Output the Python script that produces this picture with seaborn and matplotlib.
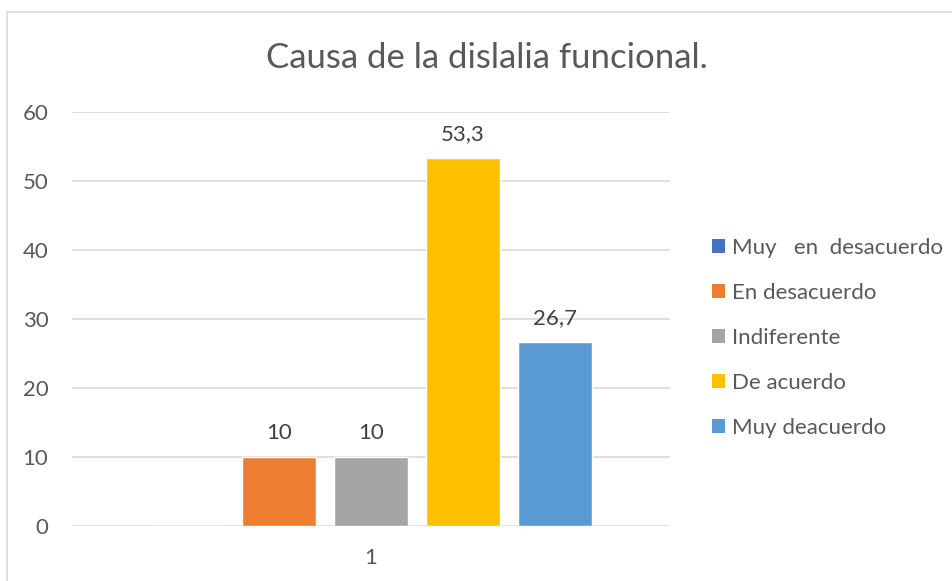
import matplotlib
matplotlib.use("Agg")
import matplotlib.pyplot as plt
import seaborn as sns
import pandas as pd
from matplotlib.patches import Patch, Rectangle

categories = ["1"]
series = ["Muy   en  desacuerdo", "En desacuerdo", "Indiferente", "De acuerdo", "Muy deacuerdo"]
values = [0, 10, 10, 53.3, 26.7]
colors = ["#4472C4", "#ED7D31", "#A5A5A5", "#FFC000", "#5B9BD5"]
yticks = [0, 10, 20, 30, 40, 50, 60]

df = pd.DataFrame({"cat": categories * len(series), "serie": series, "valor": values})

sns.set_theme(style="white")
plt.rcParams["font.family"] = ["Lato", "DejaVu Sans"]
txt = "#595959"

fig = plt.figure(figsize=(9.53, 5.81), dpi=100)
ax = fig.add_axes([72/953, 1-526/581, 598/953, 414/581])

sns.barplot(data=df, x="cat", y="valor", hue="serie", hue_order=series,
            palette=colors, width=0.77, gap=0.2, saturation=1, legend=False,
            ax=ax, errorbar=None)

ax.set_xlim(-0.5, 0.5)
ax.set_ylim(0, 60)
ax.set_yticks(yticks)
ax.yaxis.grid(True, color="#D9D9D9", linewidth=1.2)
ax.set_axisbelow(True)
for s in ax.spines.values():
    s.set_visible(False)
ax.tick_params(axis="both", length=0, labelsize=16, colors=txt)
ax.tick_params(axis="y", pad=17)
ax.tick_params(axis="x", pad=16)
ax.set_xlabel("")
ax.set_ylabel("")

for cont in ax.containers:
    labs = []
    for bar in cont:
        h = bar.get_height()
        labs.append("" if h == 0 else (f"{h:g}".replace(".", ",")))
    ax.bar_label(cont, labels=labs, padding=10, fontsize=16, color="#404040")

fig.text(487/953, 1-58/581, "Causa de la dislalia funcional.", ha="center", va="center",
         fontsize=25, color=txt)

handles = [Patch(facecolor=c, edgecolor="none") for c in colors]
fig.legend(handles, series, loc="upper left", bbox_to_anchor=(712/953, 1-238/581),
           frameon=False, fontsize=16, labelcolor=txt, handlelength=0.6,
           handleheight=0.6, handletextpad=0.3, labelspacing=1.12, borderaxespad=0,
           borderpad=0)

fig.patches.append(Rectangle((7/953, -0.1), 1.2, 1.1 - 12/581, transform=fig.transFigure,
                             fill=False, edgecolor="#D9D9D9", linewidth=1.2))

fig.savefig("out.png", dpi=100, facecolor="white")
